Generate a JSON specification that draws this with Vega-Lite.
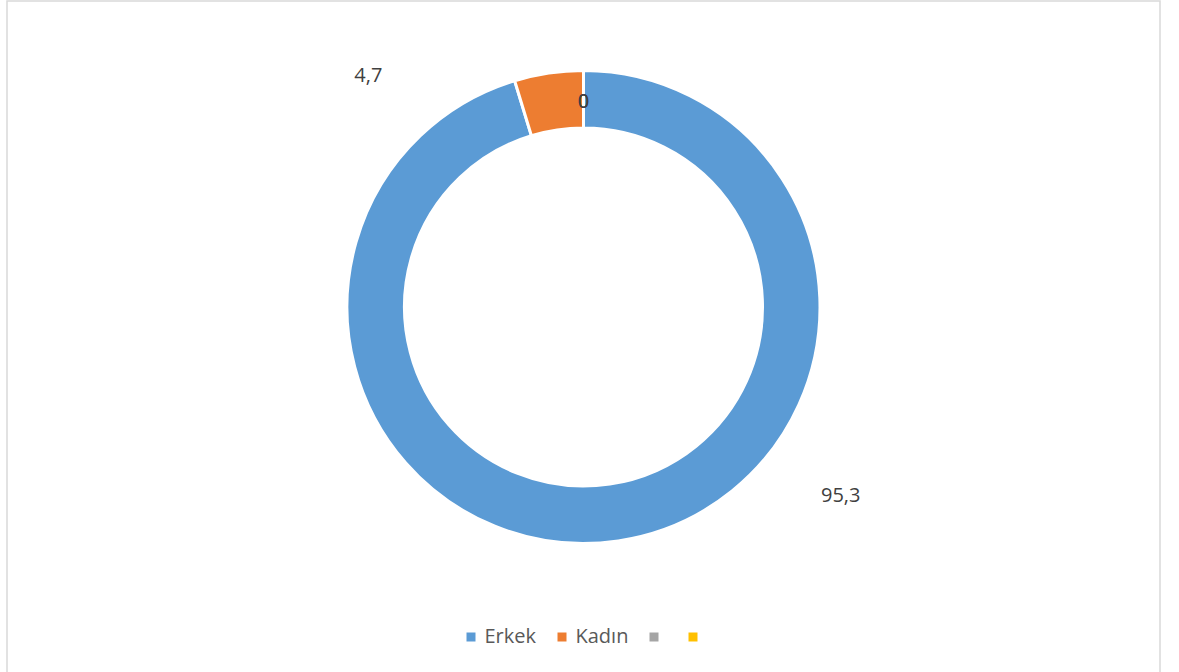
{
  "$schema": "https://vega.github.io/schema/vega-lite/v6.json",
  "width": 1153,
  "height": 612,
  "autosize": {"type": "none"},
  "padding": {"left": 7, "top": 1, "right": 19, "bottom": 59},
  "background": "white",
  "config": {
    "view": {"stroke": null},
    "locale": {"number": {"decimal": ",", "thousands": ".", "grouping": [3], "currency": ["", " TL"]}},
    "font": "Open Sans",
    "legend": {"layout": {"bottom": {"anchor": "middle"}}}
  },
  "data": {
    "values": [
      {"cat": "Erkek", "value": 95.3},
      {"cat": "Kadın", "value": 4.7},
      {"cat": "Seri 3", "value": 0},
      {"cat": "Seri 4", "value": 0}
    ]
  },
  "encoding": {
    "theta": {"field": "value", "type": "quantitative", "stack": true},
    "order": {"field": "cat", "sort": "ascending"},
    "color": {
      "field": "cat",
      "type": "nominal",
      "sort": ["Erkek", "Kadın", "Seri 3", "Seri 4"],
      "scale": {"domain": ["Erkek", "Kadın", "Seri 3", "Seri 4"], "range": ["#5B9BD5", "#ED7D31", "#A5A5A5", "#FFC000"]},
      "legend": {
        "title": null,
        "orient": "bottom",
        "direction": "horizontal",
        "symbolType": "square",
        "symbolSize": 81,
        "symbolStrokeWidth": 0,
        "labelFontSize": 20,
        "labelColor": "#595959",
        "labelFont": "Open Sans",
        "labelOffset": 3.5,
        "columnPadding": 15,
        "offset": 14,
        "labelExpr": "datum.label == 'Erkek' || datum.label == 'Kadın' ? datum.label : ' '"
      }
    }
  },
  "layer": [
    {
      "data": {"values": [{}]},
      "mark": {
        "type": "rect",
        "x": 0,
        "y": 0,
        "x2": {"expr": "width"},
        "y2": {"expr": "height + 80"},
        "fill": null,
        "stroke": "#D9D9D9",
        "strokeWidth": 1.5
      },
      "encoding": {"theta": null, "order": null, "color": null}
    },
    {
      "mark": {"type": "arc", "outerRadius": 236.5, "innerRadius": 179, "stroke": "white", "strokeWidth": 3}
    },
    {
      "mark": {
        "type": "text",
        "radius": 205.4,
        "fontSize": 20,
        "font": "Open Sans",
        "align": "center",
        "baseline": "middle",
        "dx": {"expr": "datum.cat == 'Erkek' ? 227 : datum.cat == 'Kadın' ? -185 : 0"},
        "dy": {"expr": "datum.cat == 'Erkek' ? -14.5 : datum.cat == 'Kadın' ? -27.5 : 0"}
      },
      "encoding": {
        "text": {"field": "value", "type": "quantitative", "format": ".1~f"},
        "detail": {"field": "cat"},
        "color": {"value": "#404040"}
      }
    }
  ]
}
